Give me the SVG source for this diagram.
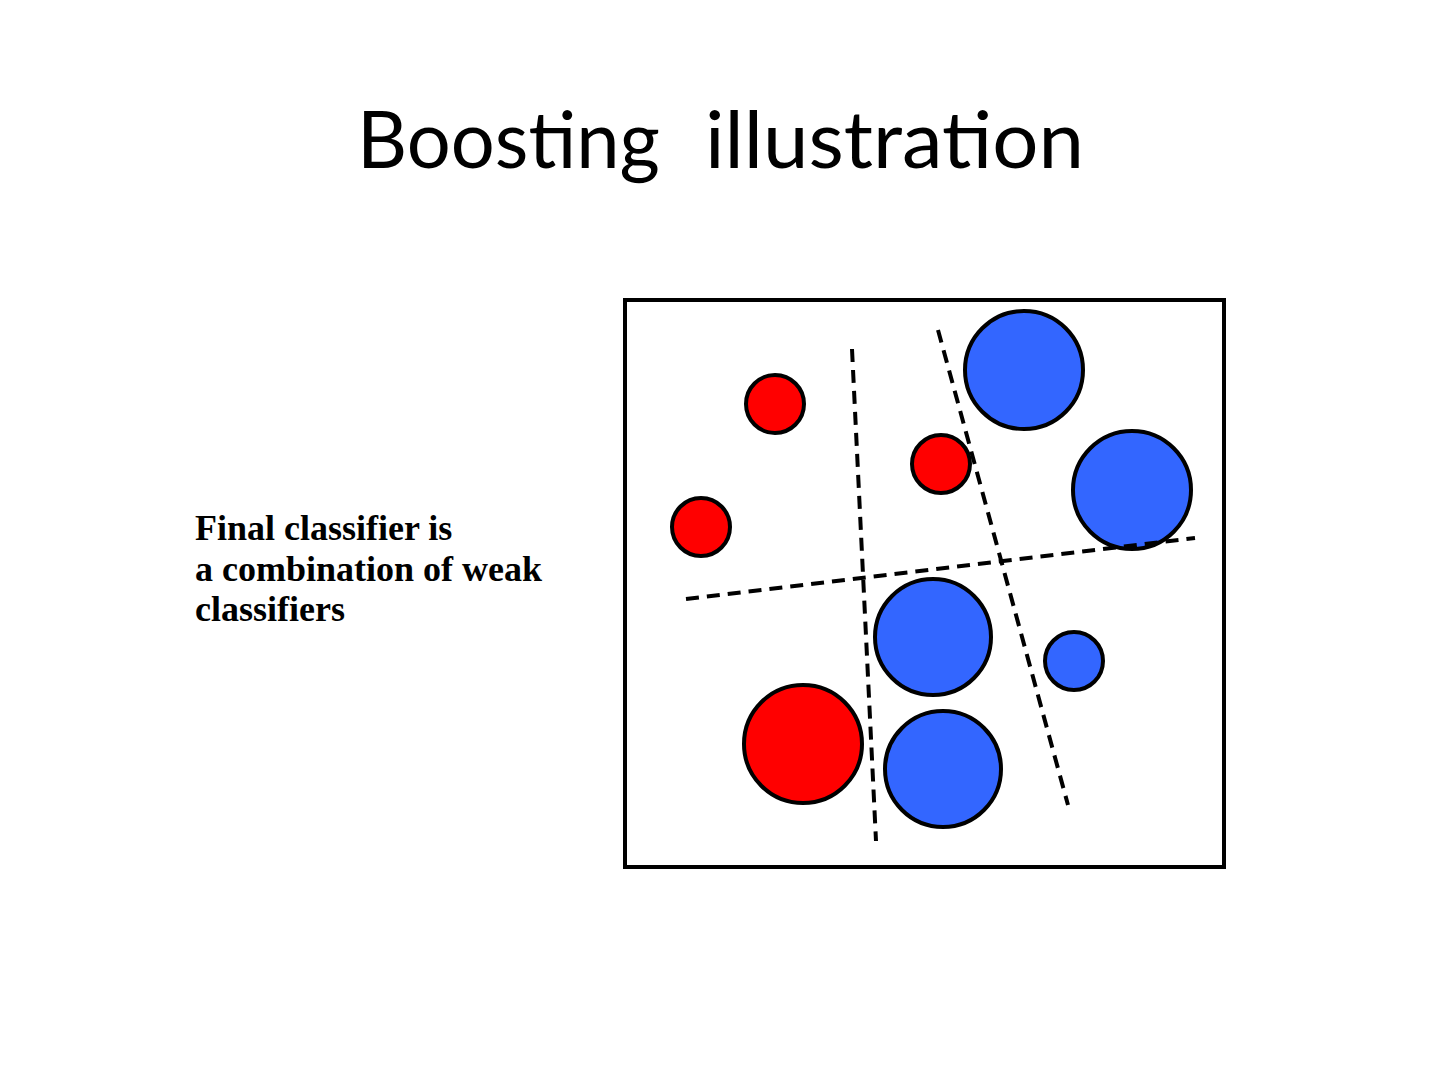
<svg xmlns="http://www.w3.org/2000/svg" width="1440" height="1080" viewBox="0 0 1440 1080">
<style>
.title{font-family:Lato,"Open Sans","Liberation Sans",sans-serif;font-size:80px;fill:#000}
.body{font-family:"Liberation Serif","Times New Roman",serif;font-weight:bold;font-size:36px;fill:#000}
.pt{stroke:#000;stroke-width:4}
.red{fill:#ff0000}
.blue{fill:#3366ff}
.dash{fill:none;stroke:#000;stroke-width:4;stroke-dasharray:13 8}
</style>
<rect width="1440" height="1080" fill="#fff"/>
<g id="title">
<text class="title" x="357" y="168" textLength="303" lengthAdjust="spacingAndGlyphs">Boosting</text>
<text class="title" x="705" y="168" textLength="379" lengthAdjust="spacingAndGlyphs">illustration</text>
</g>
<g id="caption">
<text class="body" x="195" y="540">Final classifier is</text>
<text class="body" x="195" y="581">a combination of weak</text>
<text class="body" x="195" y="621">classifiers</text>
</g>
<g id="frame"><rect x="625" y="300" width="599" height="567" fill="#fff" stroke="#000" stroke-width="4"/></g>
<g id="points">
<circle id="r1" class="pt red" cx="775" cy="404" r="29"/>
<circle id="r2" class="pt red" cx="941" cy="464" r="29"/>
<circle id="r3" class="pt red" cx="701" cy="527" r="29"/>
<circle id="r4" class="pt red" cx="803" cy="744" r="59"/>
<circle id="b1" class="pt blue" cx="1024" cy="370" r="59"/>
<circle id="b2" class="pt blue" cx="1132" cy="490" r="59"/>
<circle id="b3" class="pt blue" cx="933" cy="637" r="58"/>
<circle id="b4" class="pt blue" cx="1074" cy="661" r="29"/>
<circle id="b5" class="pt blue" cx="943" cy="769" r="58"/>
</g>
<g id="connectors">
<line class="dash" x1="852" y1="349" x2="876" y2="841"/>
<line class="dash" x1="938" y1="330" x2="1068" y2="805"/>
<line class="dash" x1="686" y1="599" x2="1195" y2="538"/>
</g>
</svg>
